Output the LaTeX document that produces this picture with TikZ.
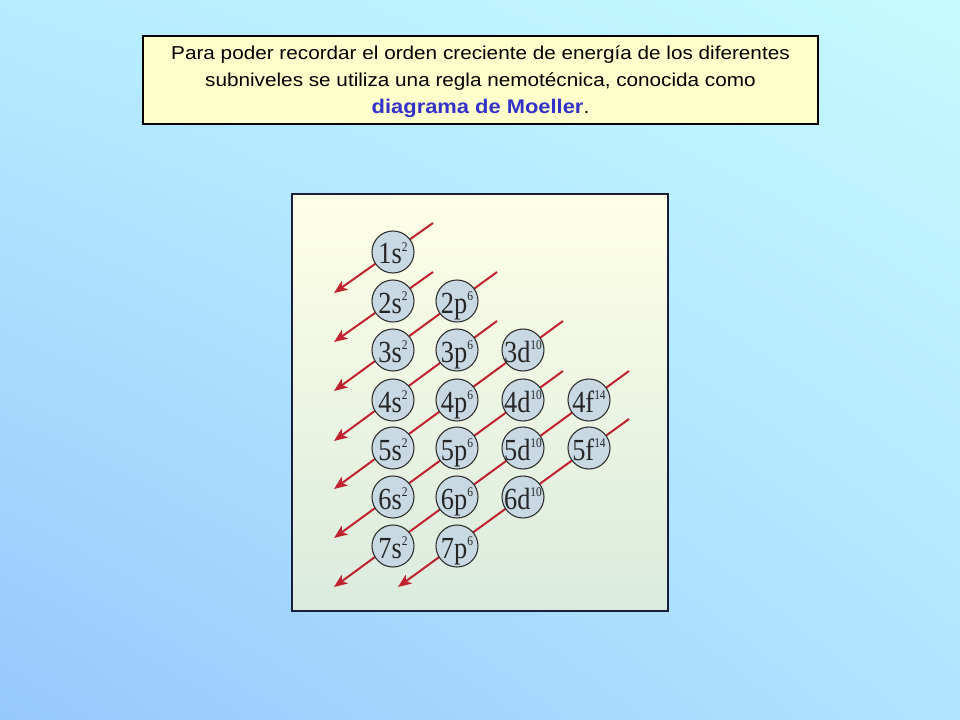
\documentclass[tikz,border=0pt]{standalone}
\usepackage{fontspec}
\setmainfont{Liberation Serif}
\newfontfamily\arialfont[FakeStretch=1.11]{Liberation Sans}
\newfontfamily\orbfont[FakeStretch=0.86]{Liberation Serif}
\usetikzlibrary{arrows.meta,calc,shadings}
\definecolor{bgA}{RGB}{150,200,252}
\definecolor{bgB}{RGB}{197,250,255}
\definecolor{bgC}{RGB}{182,236,255}
\definecolor{bgD}{RGB}{176,228,255}
\definecolor{noteFill}{RGB}{255,255,204}
\definecolor{boxTop}{RGB}{255,255,230}
\definecolor{boxBot}{RGB}{218,235,222}
\definecolor{boxLine}{RGB}{25,30,60}
\definecolor{orbFill}{RGB}{200,217,227}
\definecolor{orbLine}{RGB}{45,45,45}
\definecolor{arrowRed}{RGB}{192,34,48}
\definecolor{moellerBlue}{RGB}{50,50,200}
\newcommand{\orbsup}[1]{\raisebox{9.6pt}{\fontsize{10}{10}\selectfont #1}}
\tikzset{
  orbital/.style={circle, draw=orbLine, line width=0.8pt, fill=orbFill,
    minimum size=31.5pt, inner sep=0pt},
  orbtext/.style={anchor=base, inner sep=0pt, font=\orbfont\fontsize{23}{23}\selectfont, text=black!85},
  diagarrow/.style={draw=arrowRed, line width=1.5pt,
    -{Stealth[length=10pt,width=8pt,inset=2.5pt]}},
}
\begin{document}
\begin{tikzpicture}[x=0.75pt,y=-0.75pt]
\useasboundingbox (0,0) rectangle (960,720);
% background
\shade[lower left=bgA, upper right=bgB, upper left=bgC, lower right=bgD] (0,720) rectangle (960,0);
% note box
\node[draw=black, line width=0.8pt, fill=noteFill, minimum width=506.25pt, minimum height=66pt,
      inner sep=0pt] (note) at (480.5,80) {};
\node[align=center, font=\arialfont\fontsize{14}{20.3}\selectfont, inner sep=0pt] (notetext) at (480.5,81.5)
  {Para poder recordar el orden creciente de energía de los diferentes\\
   subniveles se utiliza una regla nemotécnica, conocida como\\
   {\fontsize{14.8}{20.3}\selectfont\bfseries\color{moellerBlue}diagrama de Moeller}.};
% diagram box
\shade[top color=boxTop, bottom color=boxBot] (292,194) rectangle (668,611);
\draw[boxLine, line width=0.8pt] (292,194) rectangle (668,611);
% orbital centres
\def\xa{393}\def\xb{457}\def\xc{523}\def\xd{589}
\coordinate (c1s) at (\xa,252);
\coordinate (c2s) at (\xa,301); \coordinate (c2p) at (\xb,301);
\coordinate (c3s) at (\xa,350); \coordinate (c3p) at (\xb,350); \coordinate (c3d) at (\xc,350);
\coordinate (c4s) at (\xa,400); \coordinate (c4p) at (\xb,400); \coordinate (c4d) at (\xc,400); \coordinate (c4f) at (\xd,400);
\coordinate (c5s) at (\xa,448); \coordinate (c5p) at (\xb,448); \coordinate (c5d) at (\xc,448); \coordinate (c5f) at (\xd,448);
\coordinate (c6s) at (\xa,497); \coordinate (c6p) at (\xb,497); \coordinate (c6d) at (\xc,497);
\coordinate (c7s) at (\xa,546); \coordinate (c7p) at (\xb,546);
% arrows (start/end)
\foreach \t/\b/\k in {1s/1s/1, 2s/2s/2, 2p/3s/3, 3p/4s/4, 3d/5s/5, 4d/6s/6, 4f/7s/7, 5f/7p/8}{
  \coordinate (as\k) at ($(c\t)+(40,-29)$);
  \coordinate (ae\k) at ($(c\b)+(-59,41)$);
  \draw[diagarrow] (as\k) -- (ae\k);
}
% orbitals
\foreach \n/\sup in {1s/2, 2s/2, 2p/6, 3s/2, 3p/6, 3d/10, 4s/2, 4p/6, 4d/10, 4f/14,
                     5s/2, 5p/6, 5d/10, 5f/14, 6s/2, 6p/6, 6d/10, 7s/2, 7p/6}{
  \node[orbital] (o\n) at (c\n) {};
  \node[orbtext] (t\n) at ($(o\n.center)+(0,12)$) {\n\orbsup{\sup}};
}
\end{tikzpicture}
\end{document}
